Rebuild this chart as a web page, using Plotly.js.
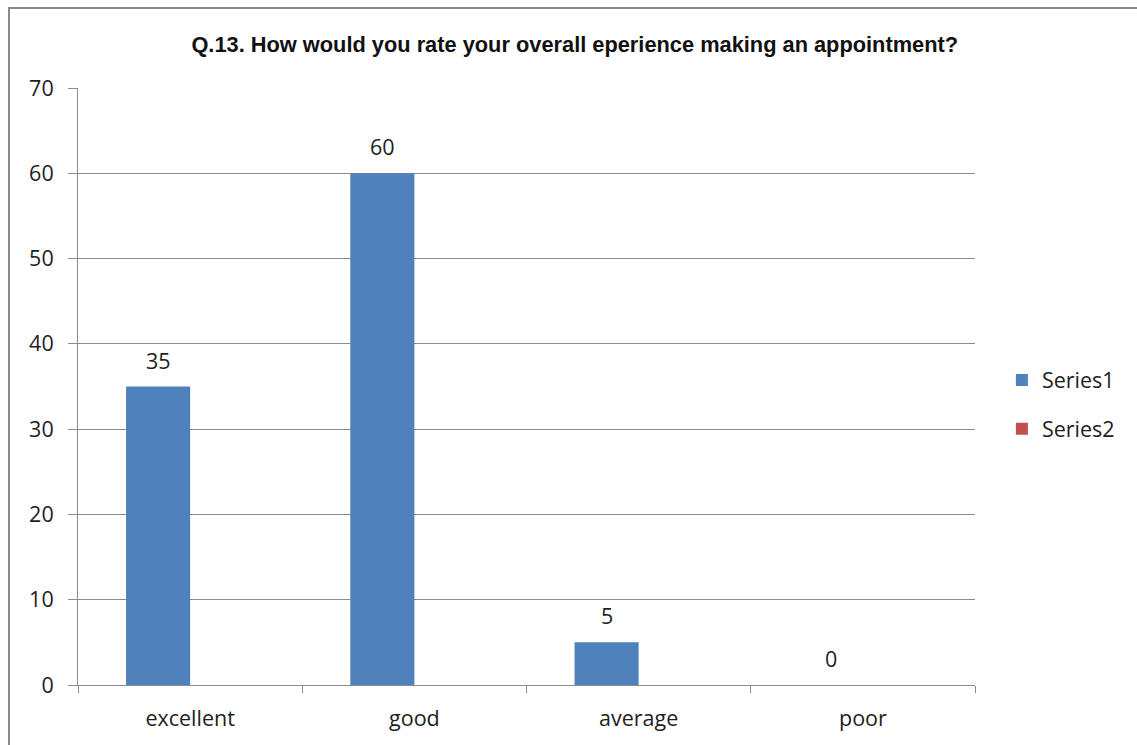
<!DOCTYPE html>
<html>
<head>
<meta charset="utf-8">
<script src="https://cdn.plot.ly/plotly-3.0.1.min.js"></script>
<style>
  html, body { margin: 0; padding: 0; background: #fff; }
  #chart { width: 1137px; height: 745px; }
</style>
</head>
<body>
<div id="chart"></div>
<script>
// Survey answers for Q.13
const categories = ['excellent', 'good', 'average', 'poor'];
const series1 = [35, 60, 5, 0];
const series2 = [null, null, null, null];
const yTicks = [0, 10, 20, 30, 40, 50, 60, 70];

const labelFont = { family: '"Open Sans", Lato, sans-serif', size: 21.5, color: '#1e1e1e' };
const gridColor = '#8c8c8c';

const traces = [
  {
    type: 'bar', name: 'Series1', x: categories, y: series1,
    marker: { color: '#4f81bd' }, legendgroup: 'a', hoverinfo: 'x+y'
  },
  {
    type: 'bar', name: 'Series2', x: categories, y: series2,
    marker: { color: '#c0504d' }, legendgroup: 'b', hoverinfo: 'x+y'
  }
];

// value labels above the Series1 bars (left half of each category group)
const annotations = categories.map((c, i) => ({
  x: c, y: series1[i], xref: 'x', yref: 'y',
  text: String(series1[i]), showarrow: false,
  xanchor: 'center', yanchor: 'bottom',
  xshift: -32, yshift: 10,
  font: labelFont
}));

const layout = {
  width: 1137, height: 745,
  margin: { l: 78, r: 162, t: 88, b: 60, autoexpand: false },
  paper_bgcolor: '#fff', plot_bgcolor: '#fff',
  title: {
    text: 'Q.13. How would you rate your overall eperience making an appointment?',
    font: { family: '"Liberation Sans", Arial, sans-serif', size: 21.8, color: '#111', weight: 'bold' },
    x: 0.5055, xref: 'container', xanchor: 'center',
    y: 1 - 44 / 745, yref: 'container', yanchor: 'middle'
  },
  barmode: 'group', bargap: 0.4286, bargroupgap: 0,
  xaxis: {
    type: 'category', categoryarray: categories,
    showgrid: false, showline: true, linecolor: gridColor, linewidth: 1,
    ticks: 'outside', tickson: 'boundaries', ticklen: 7, tickcolor: gridColor,
    tickfont: labelFont, ticklabelstandoff: 14, fixedrange: true
  },
  yaxis: {
    range: [0, 70], tickvals: yTicks, ticktext: yTicks.map(String),
    showgrid: true, gridcolor: gridColor, gridwidth: 1,
    showline: true, linecolor: gridColor, linewidth: 1,
    ticks: 'outside', ticklen: 9, tickcolor: gridColor,
    tickfont: labelFont, ticklabelstandoff: 10, zeroline: false, fixedrange: true
  },
  legend: {
    x: 1.03, xanchor: 'left', y: 0.47, yanchor: 'middle',
    font: labelFont, traceorder: 'grouped', tracegroupgap: 18,
    bgcolor: 'rgba(0,0,0,0)'
  },
  annotations: annotations,
  shapes: [{
    type: 'rect', xref: 'paper', yref: 'paper',
    x0: (9 - 78) / 897, x1: 1.3, y0: -0.3, y1: (685 - 8) / 597,
    line: { color: '#8a8a8a', width: 2 }, fillcolor: 'rgba(0,0,0,0)', layer: 'below'
  }],
  showlegend: true
};

Plotly.newPlot('chart', traces, layout, { displayModeBar: false, staticPlot: true });
</script>
</body>
</html>
